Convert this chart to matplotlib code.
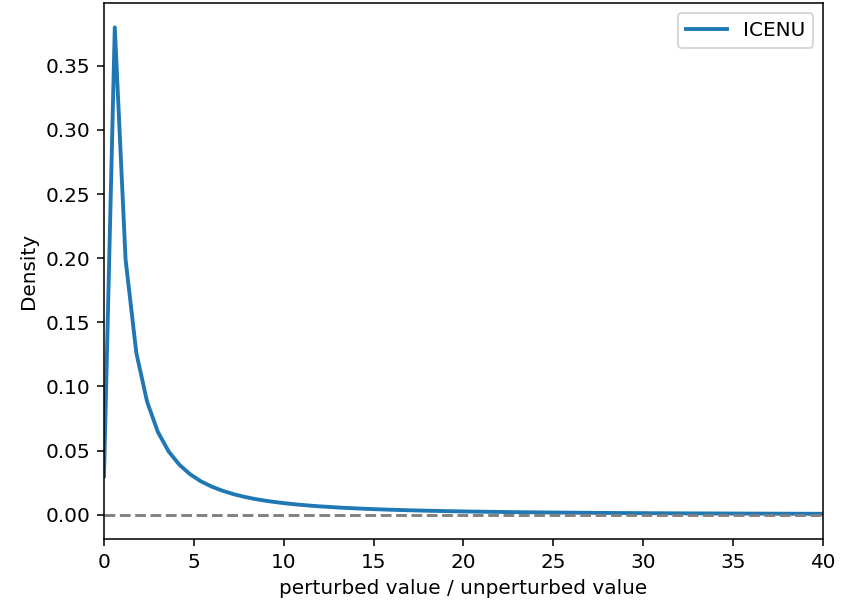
#!/usr/bin/env python3

import matplotlib
matplotlib.use('Agg')
import matplotlib.pyplot as plt


# density of perturbed / unperturbed ratio, sampled on a 0.6 grid near the peak
ratio = [0.0, 0.6, 1.2, 1.8, 2.4, 3.0, 3.6, 4.2, 4.8, 5.4, 6.0, 6.6, 7.2, 7.8,
         8.4, 9.0, 9.6, 10.2, 10.8, 11.4, 12.0, 13.2, 14.4, 15.6, 16.8, 18.0,
         19.2, 20.4, 22.8, 25.2, 27.6, 30.0, 32.4, 34.8, 37.2, 39.6, 42.0]
density = [0.030, 0.380, 0.199, 0.126, 0.0879, 0.0644, 0.0492, 0.0388, 0.0314,
           0.0259, 0.0218, 0.0186, 0.0160, 0.0139, 0.0122, 0.0108, 0.00966,
           0.00866, 0.00782, 0.00709, 0.00646, 0.00542, 0.00462, 0.00398,
           0.00347, 0.00305, 0.00270, 0.00241, 0.00195, 0.00161, 0.00135,
           0.00115, 0.00099, 0.00087, 0.00076, 0.00067, 0.00060]
label = 'ICENU'


def main():
    plt.rcParams['font.size'] = 10.4
    dpi = 139
    fig = plt.figure(figsize=(846 / dpi, 602 / dpi), dpi=dpi)
    ax = fig.add_axes([104 / 846, 1 - 539 / 602, (823 - 104) / 846, (539 - 3) / 602])

    ax.plot(ratio, density, color='#1f77b4', lw=2, label=label)
    ax.axhline(0, color='gray', ls='--', lw=1.5)

    ax.set_xlim(0, 40)
    ax.set_ylim(-0.019, 0.399)
    ax.set_xlabel('perturbed value / unperturbed value')
    ax.set_ylabel('Density')
    ax.legend(loc='upper right')

    fig.savefig('out.png', dpi=dpi)


if __name__ == '__main__':
    main()
